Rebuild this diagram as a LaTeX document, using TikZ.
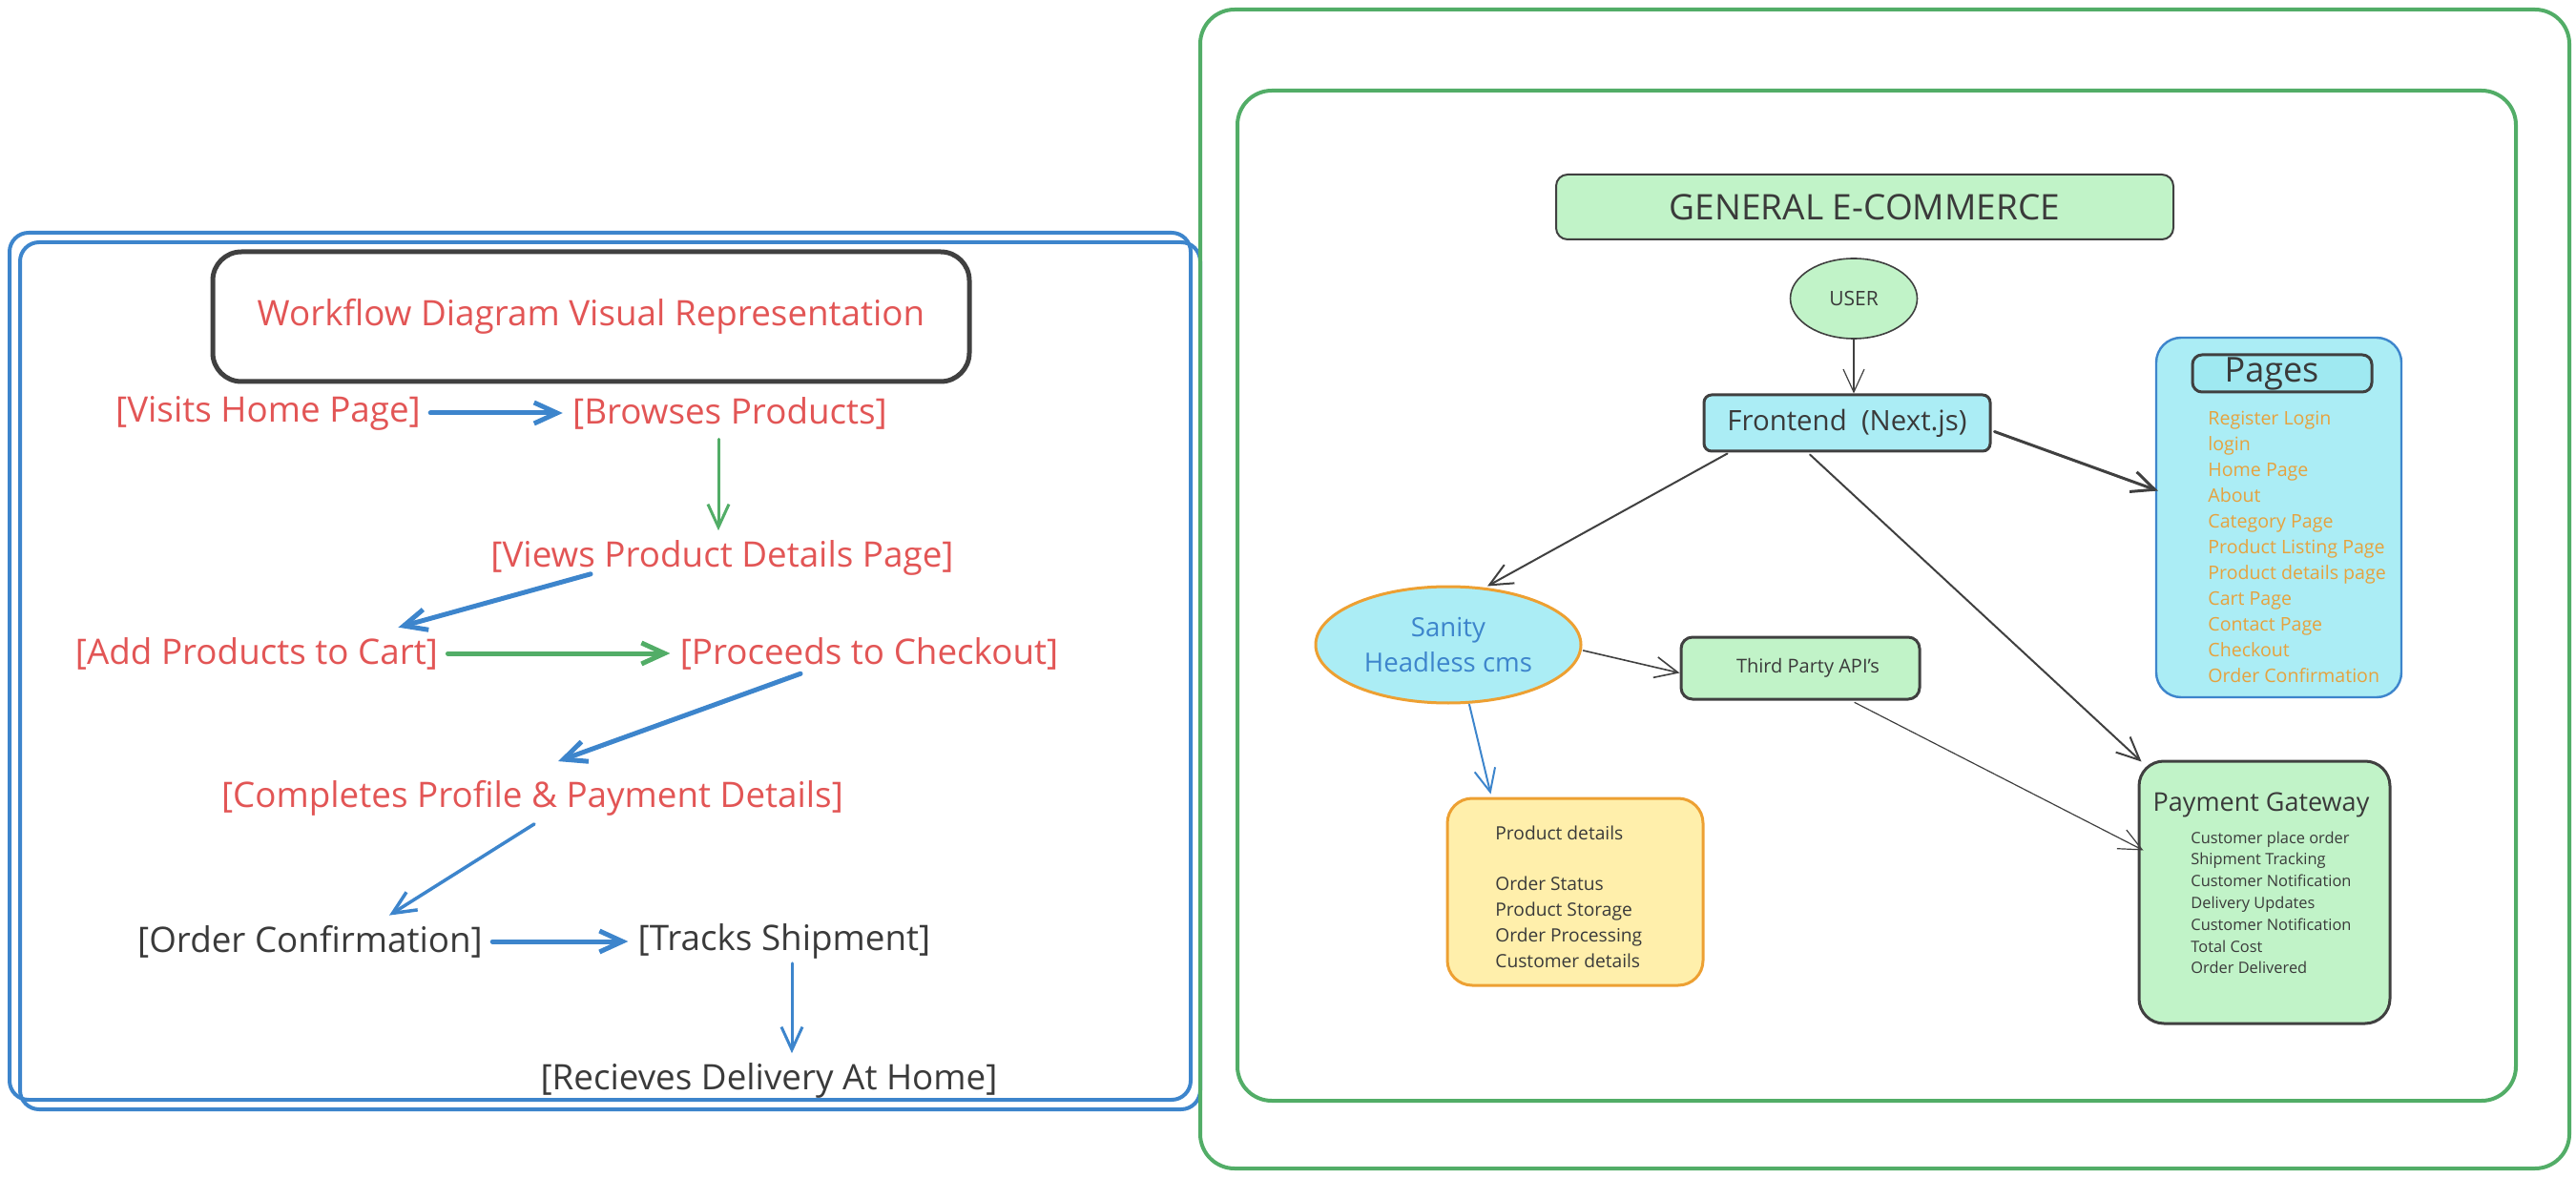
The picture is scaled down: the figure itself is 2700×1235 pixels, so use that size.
\documentclass[tikz,border=0pt]{standalone}
\usepackage{fontspec}
\setmainfont{Open Sans}
\usetikzlibrary{arrows.meta,calc,shapes.geometric}
\definecolor{cred}{HTML}{E25555}
\definecolor{cblue}{HTML}{3D85CC}
\definecolor{cgreen}{HTML}{52AD67}
\definecolor{cdark}{HTML}{404040}
\definecolor{ctext}{HTML}{3A3A3A}
\definecolor{lgreen}{HTML}{C1F3C8}
\definecolor{lcyan}{HTML}{ABEDF5}
\definecolor{lcyantwo}{HTML}{9FE9F1}
\definecolor{lyellow}{HTML}{FFEFAB}
\definecolor{corange}{HTML}{EDA032}
\definecolor{ptext}{HTML}{E6A23E}
\begin{document}
\begin{tikzpicture}[x=0.5pt,y=-0.5pt,
  flow/.style={inner sep=5pt,font=\fontsize{18.4pt}{22pt}\selectfont},
  arr/.style={-{Straight Barb[length=12pt,width=11pt]},line cap=round},
  box/.style={draw=cdark,inner sep=0pt},
  plist/.style={anchor=base west,inner sep=0pt,text=ptext,font=\fontsize{9.8pt}{12pt}\selectfont},
  glist/.style={anchor=base west,inner sep=0pt,text=ctext,font=\fontsize{8.2pt}{10pt}\selectfont},
  ylist/.style={anchor=base west,inner sep=0pt,text=ctext,font=\fontsize{9.6pt}{12pt}\selectfont}]
\useasboundingbox (0,0) rectangle (2700,1235);

% ---------- left container ----------
\draw[cblue,line width=2pt,rounded corners=10pt] (10,244) rectangle (1248,1153);
\draw[cblue,line width=2pt,rounded corners=10pt] (21,254) rectangle (1258,1163);

\node[draw=cdark,line width=2.5pt,rounded corners=15pt,minimum width=396.5pt,minimum height=68pt,
      text=cred,font=\fontsize{18.4pt}{22pt}\selectfont] (title) at (619.5,332)
      {Workflow Diagram Visual Representation};

\node[flow,text=cred] (visits)    at (281,433)  {[Visits Home Page]};
\node[flow,text=cred] (browses)   at (765,433)  {[Browses Products]};
\node[flow,text=cred] (views)     at (757,585)  {[Views Product Details Page]};
\node[flow,text=cred] (add)       at (269,685)  {[Add Products to Cart]};
\node[flow,text=cred] (proceeds)  at (911,685)  {[Proceeds to Checkout]};
\node[flow,text=cred] (completes) at (558,837)  {[Completes Profile \& Payment Details]};
\node[flow,text=ctext] (order)    at (325,987)  {[Order Confirmation]};
\node[flow,text=ctext] (tracks)   at (822,987)  {[Tracks Shipment]};
\node[flow,text=ctext] (receives) at (806,1133) {[Recieves Delivery At Home]};

\coordinate (bstart) at ($(browses.south)+(-12,0)$);
\coordinate (tstart) at ($(tracks.south)+(8,-6)$);
\draw[arr,cblue,line width=2.5pt] (visits.east) -- (browses.west);
\draw[arr,cgreen,line width=1.5pt] (bstart) -- (bstart |- views.north);
\draw[arr,cblue,line width=2.5pt] ($(views.south west)+(115,-12)$) -- ($(add.north east)+(-52,0)$);
\draw[arr,cgreen,line width=2.5pt] (add.east) -- (proceeds.west);
\draw[arr,cblue,line width=2.5pt] ($(proceeds.south)+(-72,-6)$) -- ($(completes.north)+(27,-10)$);
\draw[arr,cblue,line width=1.75pt] ($(completes.south)+(2,-2)$) -- ($(order.north)+(83,0)$);
\draw[arr,cblue,line width=2.5pt] (order.east) -- (tracks.west);
\draw[arr,cblue,line width=1.5pt] (tstart) -- (tstart |- receives.north);

% ---------- right container ----------
\draw[cgreen,line width=2pt,rounded corners=18pt] (1258,10) rectangle (2693,1225);
\draw[cgreen,line width=2pt,rounded corners=18pt] (1297,95) rectangle (2637,1154);

\node[box,fill=lgreen,line width=1pt,rounded corners=6pt,minimum width=323.5pt,minimum height=34pt,
      text=ctext,font=\fontsize{18.5pt}{22pt}\selectfont] (general) at (1954.5,217) {GENERAL E-COMMERCE};

\node[box,ellipse,fill=lgreen,line width=0.8pt,minimum width=66.5pt,minimum height=42pt,
      text=ctext,font=\fontsize{10.5pt}{12pt}\selectfont] (user) at (1943,313) {USER};

\node[box,fill=lcyan,line width=1.5pt,rounded corners=4pt,minimum width=150pt,minimum height=29.5pt,
      text=ctext,font=\fontsize{14.7pt}{17pt}\selectfont] (frontend) at (1936,443.5) {Frontend\ \ (Next.js)};

\node[draw=cblue,fill=lcyan,line width=1.2pt,rounded corners=13pt,minimum width=128.5pt,minimum height=188.5pt,
      inner sep=0pt] (pages) at (2388.5,542.5) {};
\node[box,fill=lcyantwo,line width=1.5pt,rounded corners=5pt,minimum width=94pt,minimum height=19.5pt,
      text=ctext,font=\fontsize{18pt}{20pt}\selectfont] (pagest) at (2392,391.5) {Pages\hspace*{11pt}};
\foreach \t [count=\i from 0] in {Register Login,login,Home Page,About,Category Page,Product Listing Page,
      Product details page,Cart Page,Contact Page,Checkout,Order Confirmation}
  \node[plist] (pg\i) at (2314,{446+26.9*\i}) {\t};

\node[draw=corange,ellipse,fill=lcyan,line width=1.5pt,minimum width=139pt,minimum height=61pt,inner sep=0pt,
      align=center,text=cblue,font=\fontsize{13.8pt}{18.5pt}\selectfont] (sanity) at (1518,676) {Sanity\\Headless cms};

\node[box,fill=lgreen,line width=1.5pt,rounded corners=6pt,minimum width=125pt,minimum height=32.5pt,
      text=ctext,font=\fontsize{10pt}{12pt}\selectfont] (third) at (1887,700.5) {\hspace*{8pt}Third Party API's};

\node[draw=corange,fill=lyellow,line width=1.5pt,rounded corners=13pt,minimum width=134pt,minimum height=98pt,
      inner sep=0pt] (store) at (1651,935) {};
\node[ylist] (s1) at (1567,880)  {Product details};
\node[ylist] (s2) at (1567,933)  {Order Status};
\node[ylist] (s3) at (1567,960)  {Product Storage};
\node[ylist] (s4) at (1567,987)  {Order Processing};
\node[ylist] (s5) at (1567,1014) {Customer details};

\node[box,fill=lgreen,line width=1.5pt,rounded corners=13pt,minimum width=131.5pt,minimum height=137.5pt] (payment) at (2373.5,935.5) {};
\node[anchor=base,inner sep=0pt,text=ctext,font=\fontsize{13.5pt}{16pt}\selectfont] (paytitle) at (2370,850) {Payment Gateway};
\foreach \t [count=\i from 0] in {Customer place order,Shipment Tracking,Customer Notification,Delivery Updates,
      Customer Notification,Total Cost,Order Delivered}
  \node[glist] (pl\i) at (2296,{884+22.8*\i}) {\t};

% right connectors
\draw[arr,cdark,line width=0.6pt] (user.south) -- (user.south |- frontend.north);
\draw[arr,cdark,line width=1.5pt] ($(frontend.east)+(3,9)$) -- ($(pages.west)+(3,-28)$);
\draw[arr,cdark,line width=1pt] ($(frontend.south west)+(26,1)$) -- ($(sanity.north)+(41,1)$);
\draw[arr,cdark,line width=1pt] ($(frontend.south)+(-39,2)$) -- ($(payment.north west)+(4,2)$);
\draw[arr,cdark,line width=0.8pt] ($(sanity.east)+(1,6)$) -- ($(third.west)+(0,5)$);
\draw[arr,cdark,line width=0.6pt] ($(third.south)+(57,2)$) -- ($(payment.west)+(6,-44)$);
\draw[arr,cblue,line width=1pt] ($(sanity.south)+(22,0)$) -- ($(store.north west)+(47,-3)$);
\end{tikzpicture}
\end{document}
